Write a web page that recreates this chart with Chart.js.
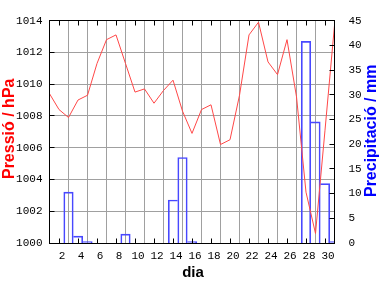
<!DOCTYPE html>
<html>
<head>
<meta charset="utf-8">
<script src="https://cdn.jsdelivr.net/npm/chart.js@4.4.0/dist/chart.umd.min.js"></script>
<style>
  html, body { margin: 0; padding: 0; background: #fff; }
</style>
</head>
<body>
<canvas id="chart" width="384" height="288"></canvas>
<script>
// daily pressure (hPa), one value per day of the month, plus the first of the next one
const days = [1, 2, 3, 4, 5, 6, 7, 8, 9, 10, 11, 12, 13, 14, 15, 16,
  17, 18, 19, 20, 21, 22, 23, 24, 25, 26, 27, 28, 29, 30, 31];
const pressure = [1009.4, 1008.4, 1007.9, 1009.0, 1009.3, 1011.3, 1012.8, 1013.1,
  1011.3, 1009.5, 1009.7, 1008.8, 1009.6, 1010.25, 1008.3, 1006.9,
  1008.4, 1008.7, 1006.2, 1006.5, 1009.3, 1013.1, 1013.9, 1011.4,
  1010.6, 1012.8, 1009.2, 1003.2, 1000.6, 1007.1, 1013.7];

// days with rain and the amount (mm)
const rainDays = [3, 4, 5, 9, 14, 15, 16, 28, 29, 30, 31];
const rain = [10.3, 1.4, 0.3, 1.8, 8.7, 17.3, 0.3, 40.8, 24.5, 12.0, 0.3];

const dayTicks = [2, 4, 6, 8, 10, 12, 14, 16, 18, 20, 22, 24, 26, 28, 30];

const tickFont = { family: 'Liberation Mono', size: 11 };
const titleFont = 'bold 16px "Liberation Sans"';

// neighbouring boxes share one edge: the taller one draws it
function barEdges(i) {
  const l = rainDays.indexOf(rainDays[i] - 1);
  const r = rainDays.indexOf(rainDays[i] + 1);
  return {
    top: 1,
    bottom: 0,
    left: l < 0 || rain[l] < rain[i] ? 1 : 0,
    right: r < 0 || rain[r] <= rain[i] ? 1 : 0
  };
}

const align = (v) => Math.round(v - 0.5) + 0.5;

// black frame with inward ticks, and the axis titles
const frame = {
  id: 'frame',
  afterDatasetsDraw(chart) {
    const { ctx, chartArea: a, scales: { x, y, y1 } } = chart;
    const L = Math.floor(a.left) + 0.5, R = Math.floor(a.right) + 0.5;
    const T = Math.floor(a.top) + 0.5, B = Math.floor(a.bottom) + 0.5;
    ctx.save();
    ctx.strokeStyle = '#000';
    ctx.lineWidth = 1;
    ctx.strokeRect(L, T, R - L, B - T);
    ctx.beginPath();
    x.ticks.forEach((t) => {
      const px = align(x.getPixelForValue(t.value));
      ctx.moveTo(px, B); ctx.lineTo(px, B - 5);
      ctx.moveTo(px, T); ctx.lineTo(px, T + 5);
    });
    y.ticks.forEach((t) => {
      const py = align(y.getPixelForValue(t.value));
      ctx.moveTo(L, py); ctx.lineTo(L + 5, py);
    });
    y1.ticks.forEach((t) => {
      const py = align(y1.getPixelForValue(t.value));
      ctx.moveTo(R, py); ctx.lineTo(R - 5, py);
    });
    ctx.stroke();

    ctx.font = titleFont;
    ctx.textAlign = 'center';
    ctx.textBaseline = 'alphabetic';
    const mid = (a.top + a.bottom) / 2;
    ctx.fillStyle = '#ff0000';
    ctx.save(); ctx.translate(13.5, mid - 3); ctx.rotate(-Math.PI / 2);
    ctx.fillText('Pressió / hPa', 0, 0); ctx.restore();
    ctx.fillStyle = '#0000ff';
    ctx.save(); ctx.translate(375.5, mid - 1); ctx.rotate(-Math.PI / 2);
    ctx.fillText('Precipitació / mm', 0, 0); ctx.restore();
    ctx.fillStyle = '#000';
    ctx.font = 'bold 15px "Liberation Sans"';
    ctx.fillText('dia', (a.left + a.right) / 2 + 1, 277);
    ctx.restore();
  }
};

const ctx = document.getElementById('chart').getContext('2d');

new Chart(ctx, {
  type: 'bar',
  data: {
    datasets: [
      {
        type: 'line',
        label: 'Pressió',
        data: days.map((d, i) => ({ x: d, y: pressure[i] })),
        yAxisID: 'y',
        borderColor: '#ff4848',
        borderWidth: 1,
        pointRadius: 0,
        tension: 0,
        order: 1
      },
      {
        type: 'bar',
        label: 'Precipitació',
        data: rainDays.map((d, i) => ({ x: d, y: rain[i] })),
        yAxisID: 'y1',
        borderColor: '#4848ff',
        backgroundColor: 'rgba(0,0,0,0)',
        borderWidth: (c) => barEdges(c.dataIndex),
        borderSkipped: false,
        barPercentage: 1,
        categoryPercentage: 1,
        order: 2
      }
    ]
  },
  options: {
    responsive: false,
    animation: false,
    layout: { padding: { top: 14 } },
    plugins: {
      legend: { display: false },
      tooltip: { enabled: false }
    },
    scales: {
      x: {
        type: 'linear',
        min: 1,
        max: 31,
        offset: false,
        afterBuildTicks: (s) => { s.ticks = dayTicks.map((v) => ({ value: v })); },
        afterFit: (s) => { s.height = 45; },
        grid: { color: '#a0a0a0', drawTicks: false },
        border: { display: false },
        ticks: {
          font: tickFont, color: '#000', padding: 6, labelOffset: 3,
          maxRotation: 0, autoSkip: false, callback: (v) => String(v)
        }
      },
      y: {
        position: 'left',
        min: 1000,
        max: 1014,
        afterFit: (s) => { s.width = 49.5; },
        grid: { color: '#a0a0a0', drawTicks: false },
        border: { display: false },
        ticks: { stepSize: 2, font: tickFont, color: '#000', padding: 7, callback: (v) => String(v) }
      },
      y1: {
        position: 'right',
        min: 0,
        max: 45,
        afterFit: (s) => { s.width = 49.5; },
        grid: { display: false, drawTicks: false },
        border: { display: false },
        ticks: { stepSize: 5, font: tickFont, color: '#000', padding: 14, callback: (v) => String(v) }
      }
    }
  },
  plugins: [frame]
});
</script>
</body>
</html>
